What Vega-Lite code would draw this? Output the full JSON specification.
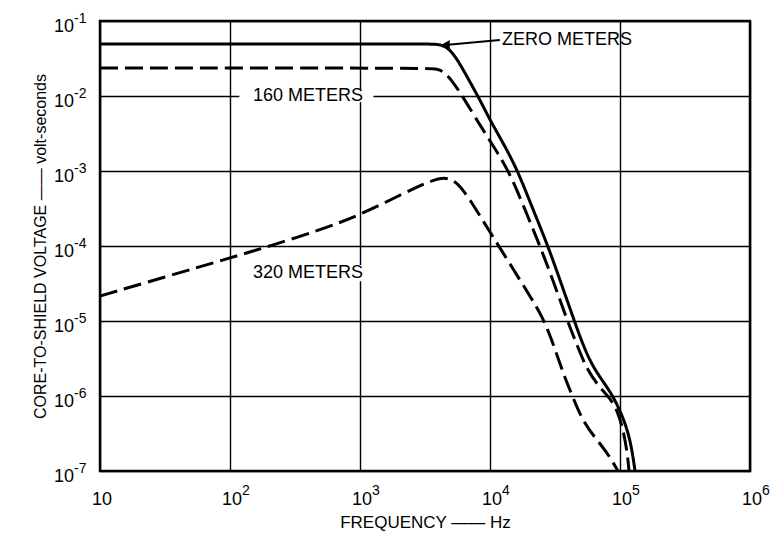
{
  "$schema": "https://vega.github.io/schema/vega-lite/v6.json",
  "width": 650,
  "height": 450,
  "autosize": {"type": "none"},
  "padding": {"left": 100, "top": 21, "right": 20, "bottom": 73},
  "background": "white",
  "config": {
    "view": {"stroke": "black", "strokeWidth": 2.5},
    "font": "Liberation Sans",
    "text": {"font": "Liberation Sans", "color": "black"}
  },
  "datasets": {
    "curves": [
      {"series": "zero", "f": 10, "v": 0.04934},
      {"series": "zero", "f": 2894, "v": 0.04934},
      {"series": "zero", "f": 3910, "v": 0.04934},
      {"series": "zero", "f": 4506, "v": 0.04642},
      {"series": "zero", "f": 5103, "v": 0.03861},
      {"series": "zero", "f": 5878, "v": 0.02671},
      {"series": "zero", "f": 7018, "v": 0.01537},
      {"series": "zero", "f": 8377, "v": 0.008846},
      {"series": "zero", "f": 10000, "v": 0.004786},
      {"series": "zero", "f": 12372, "v": 0.002512},
      {"series": "zero", "f": 16134, "v": 0.001063},
      {"series": "zero", "f": 21043, "v": 0.000331},
      {"series": "zero", "f": 27939, "v": 0.0001},
      {"series": "zero", "f": 35176, "v": 3.21e-5},
      {"series": "zero", "f": 44287, "v": 1.031e-5},
      {"series": "zero", "f": 51930, "v": 4.786e-6},
      {"series": "zero", "f": 60900, "v": 2.59e-6},
      {"series": "zero", "f": 72700, "v": 1.634e-6},
      {"series": "zero", "f": 88350, "v": 1e-6},
      {"series": "zero", "f": 103600, "v": 5.58e-7},
      {"series": "zero", "f": 115200, "v": 3.31e-7},
      {"series": "zero", "f": 123700, "v": 1.905e-7},
      {"series": "zero", "f": 130500, "v": 1e-7},
      {"series": "m160", "f": 10, "v": 0.02362},
      {"series": "m160", "f": 3336, "v": 0.02362},
      {"series": "m160", "f": 3910, "v": 0.02291},
      {"series": "m160", "f": 4506, "v": 0.02089},
      {"series": "m160", "f": 5380, "v": 0.01402},
      {"series": "m160", "f": 6197, "v": 0.0097},
      {"series": "m160", "f": 7666, "v": 0.005248},
      {"series": "m160", "f": 10000, "v": 0.002512},
      {"series": "m160", "f": 13753, "v": 0.001063},
      {"series": "m160", "f": 18260, "v": 0.000331},
      {"series": "m160", "f": 24240, "v": 0.0001},
      {"series": "m160", "f": 31070, "v": 3.21e-5},
      {"series": "m160", "f": 39110, "v": 1.031e-5},
      {"series": "m160", "f": 46700, "v": 4.786e-6},
      {"series": "m160", "f": 55760, "v": 2.222e-6},
      {"series": "m160", "f": 70180, "v": 1.279e-6},
      {"series": "m160", "f": 83770, "v": 9.4e-7},
      {"series": "m160", "f": 96520, "v": 6.12e-7},
      {"series": "m160", "f": 105500, "v": 3.52e-7},
      {"series": "m160", "f": 113200, "v": 1.905e-7},
      {"series": "m160", "f": 117300, "v": 1e-7},
      {"series": "m320", "f": 10, "v": 2.154e-5},
      {"series": "m320", "f": 31.6, "v": 3.86e-5},
      {"series": "m320", "f": 100, "v": 6.92e-5},
      {"series": "m320", "f": 203.1, "v": 0.0001},
      {"series": "m320", "f": 492.4, "v": 0.0001634},
      {"series": "m320", "f": 1000, "v": 0.000259},
      {"series": "m320", "f": 2032, "v": 0.0004786},
      {"series": "m320", "f": 3455, "v": 0.0007356},
      {"series": "m320", "f": 4506, "v": 0.0008318},
      {"series": "m320", "f": 5380, "v": 0.0007356},
      {"series": "m320", "f": 6197, "v": 0.000558},
      {"series": "m320", "f": 7270, "v": 0.0003744},
      {"series": "m320", "f": 8377, "v": 0.0002512},
      {"series": "m320", "f": 10000, "v": 0.0001537},
      {"series": "m320", "f": 11940, "v": 9.4e-5},
      {"series": "m320", "f": 15570, "v": 4.5e-5},
      {"series": "m320", "f": 20310, "v": 2.154e-5},
      {"series": "m320", "f": 25570, "v": 1.096e-5},
      {"series": "m320", "f": 29460, "v": 5.93e-6},
      {"series": "m320", "f": 33360, "v": 3.21e-6},
      {"series": "m320", "f": 37750, "v": 1.738e-6},
      {"series": "m320", "f": 42740, "v": 1.031e-6},
      {"series": "m320", "f": 51930, "v": 4.5e-7},
      {"series": "m320", "f": 66540, "v": 2.59e-7},
      {"series": "m320", "f": 80860, "v": 1.685e-7},
      {"series": "m320", "f": 96520, "v": 1e-7}
    ],
    "masks": [
      {"f": 118, "f2": 1270, "v": 0.0083, "v2": 0.0121},
      {"f": 125, "f2": 1290, "v": 3.4e-5, "v2": 5.6e-5}
    ],
    "leftlabels": [
      {"f": 12360, "v": 0.0558, "text": "ZERO METERS"}
    ],
    "centerlabels": [
      {"f": 398, "v": 0.0100, "text": "160 METERS"},
      {"f": 398, "v": 4.37e-5, "text": "320 METERS"}
    ],
    "arrow": [
      {"f": 11900, "v": 0.0556, "f2": 4750, "v2": 0.0484}
    ],
    "arrowhead": [
      {"f": 4560, "v": 0.0482}
    ],
    "xticks": [
      {"f": 10, "v": 1e-7, "base": "10", "exp": ""},
      {"f": 100, "v": 1e-7, "base": "10", "exp": "2"},
      {"f": 1000, "v": 1e-7, "base": "10", "exp": "3"},
      {"f": 10000, "v": 1e-7, "base": "10", "exp": "4"},
      {"f": 100000, "v": 1e-7, "base": "10", "exp": "5"},
      {"f": 1000000, "v": 1e-7, "base": "10", "exp": "6"}
    ],
    "yticks": [
      {"f": 10, "v": 0.1, "base": "10", "exp": "-1"},
      {"f": 10, "v": 0.01, "base": "10", "exp": "-2"},
      {"f": 10, "v": 0.001, "base": "10", "exp": "-3"},
      {"f": 10, "v": 0.0001, "base": "10", "exp": "-4"},
      {"f": 10, "v": 1e-5, "base": "10", "exp": "-5"},
      {"f": 10, "v": 1e-6, "base": "10", "exp": "-6"},
      {"f": 10, "v": 1e-7, "base": "10", "exp": "-7"}
    ]
  },
  "encoding": {
    "x": {
      "field": "f",
      "type": "quantitative",
      "scale": {"type": "log", "domain": [10, 1000000], "nice": false},
      "axis": {
        "values": [10, 100, 1000, 10000, 100000, 1000000],
        "grid": true,
        "gridColor": "black",
        "gridWidth": 1.4,
        "gridOpacity": 1,
        "labels": false,
        "ticks": false,
        "domain": false,
        "title": "FREQUENCY —— Hz",
        "titleFont": "Liberation Sans",
        "titleFontSize": 17,
        "titleFontWeight": "normal",
        "titleColor": "black",
        "titlePadding": 43
      }
    },
    "y": {
      "field": "v",
      "type": "quantitative",
      "scale": {"type": "log", "domain": [1e-7, 0.1], "nice": false},
      "axis": {
        "values": [1e-7, 1e-6, 1e-5, 0.0001, 0.001, 0.01, 0.1],
        "grid": true,
        "gridColor": "black",
        "gridWidth": 1.4,
        "gridOpacity": 1,
        "labels": false,
        "ticks": false,
        "domain": false,
        "title": "CORE-TO-SHIELD VOLTAGE —— volt-seconds",
        "titleFont": "Liberation Sans",
        "titleFontSize": 16,
        "titleFontWeight": "normal",
        "titleColor": "black",
        "titlePadding": 52
      }
    }
  },
  "layer": [
    {
      "data": {"name": "masks"},
      "mark": {"type": "rect", "fill": "white", "stroke": null},
      "encoding": {
        "x2": {"field": "f2"},
        "y2": {"field": "v2"}
      }
    },
    {
      "data": {"name": "curves"},
      "mark": {"type": "line", "color": "black", "strokeWidth": 3, "interpolate": "basis", "clip": true},
      "encoding": {
        "detail": {"field": "series"},
        "strokeDash": {
          "field": "series",
          "type": "nominal",
          "scale": {"domain": ["zero", "m160", "m320"], "range": [[1, 0], [18, 7], [18, 7]]},
          "legend": null
        }
      }
    },
    {
      "data": {"name": "arrow"},
      "mark": {"type": "rule", "color": "black", "strokeWidth": 2},
      "encoding": {
        "x2": {"field": "f2"},
        "y2": {"field": "v2"}
      }
    },
    {
      "data": {"name": "arrowhead"},
      "mark": {"type": "point", "shape": "triangle-left", "filled": true, "color": "black", "size": 90, "opacity": 1},
      "encoding": {}
    },
    {
      "data": {"name": "leftlabels"},
      "mark": {"type": "text", "fontSize": 18, "align": "left", "baseline": "middle"},
      "encoding": {"text": {"field": "text"}}
    },
    {
      "data": {"name": "centerlabels"},
      "mark": {"type": "text", "fontSize": 18, "align": "center", "baseline": "middle"},
      "encoding": {"text": {"field": "text"}}
    },
    {
      "data": {"name": "xticks"},
      "mark": {"type": "text", "fontSize": 18, "align": "center", "baseline": "middle", "xOffset": 2, "yOffset": 29},
      "encoding": {"text": {"field": "base"}}
    },
    {
      "data": {"name": "xticks"},
      "mark": {"type": "text", "fontSize": 14, "align": "left", "baseline": "middle", "xOffset": 12, "yOffset": 20},
      "encoding": {"text": {"field": "exp"}}
    },
    {
      "data": {"name": "yticks"},
      "mark": {"type": "text", "fontSize": 18, "align": "right", "baseline": "middle", "xOffset": -26, "yOffset": 6},
      "encoding": {"text": {"field": "base"}}
    },
    {
      "data": {"name": "yticks"},
      "mark": {"type": "text", "fontSize": 14, "align": "left", "baseline": "middle", "xOffset": -26, "yOffset": -2},
      "encoding": {"text": {"field": "exp"}}
    }
  ]
}
